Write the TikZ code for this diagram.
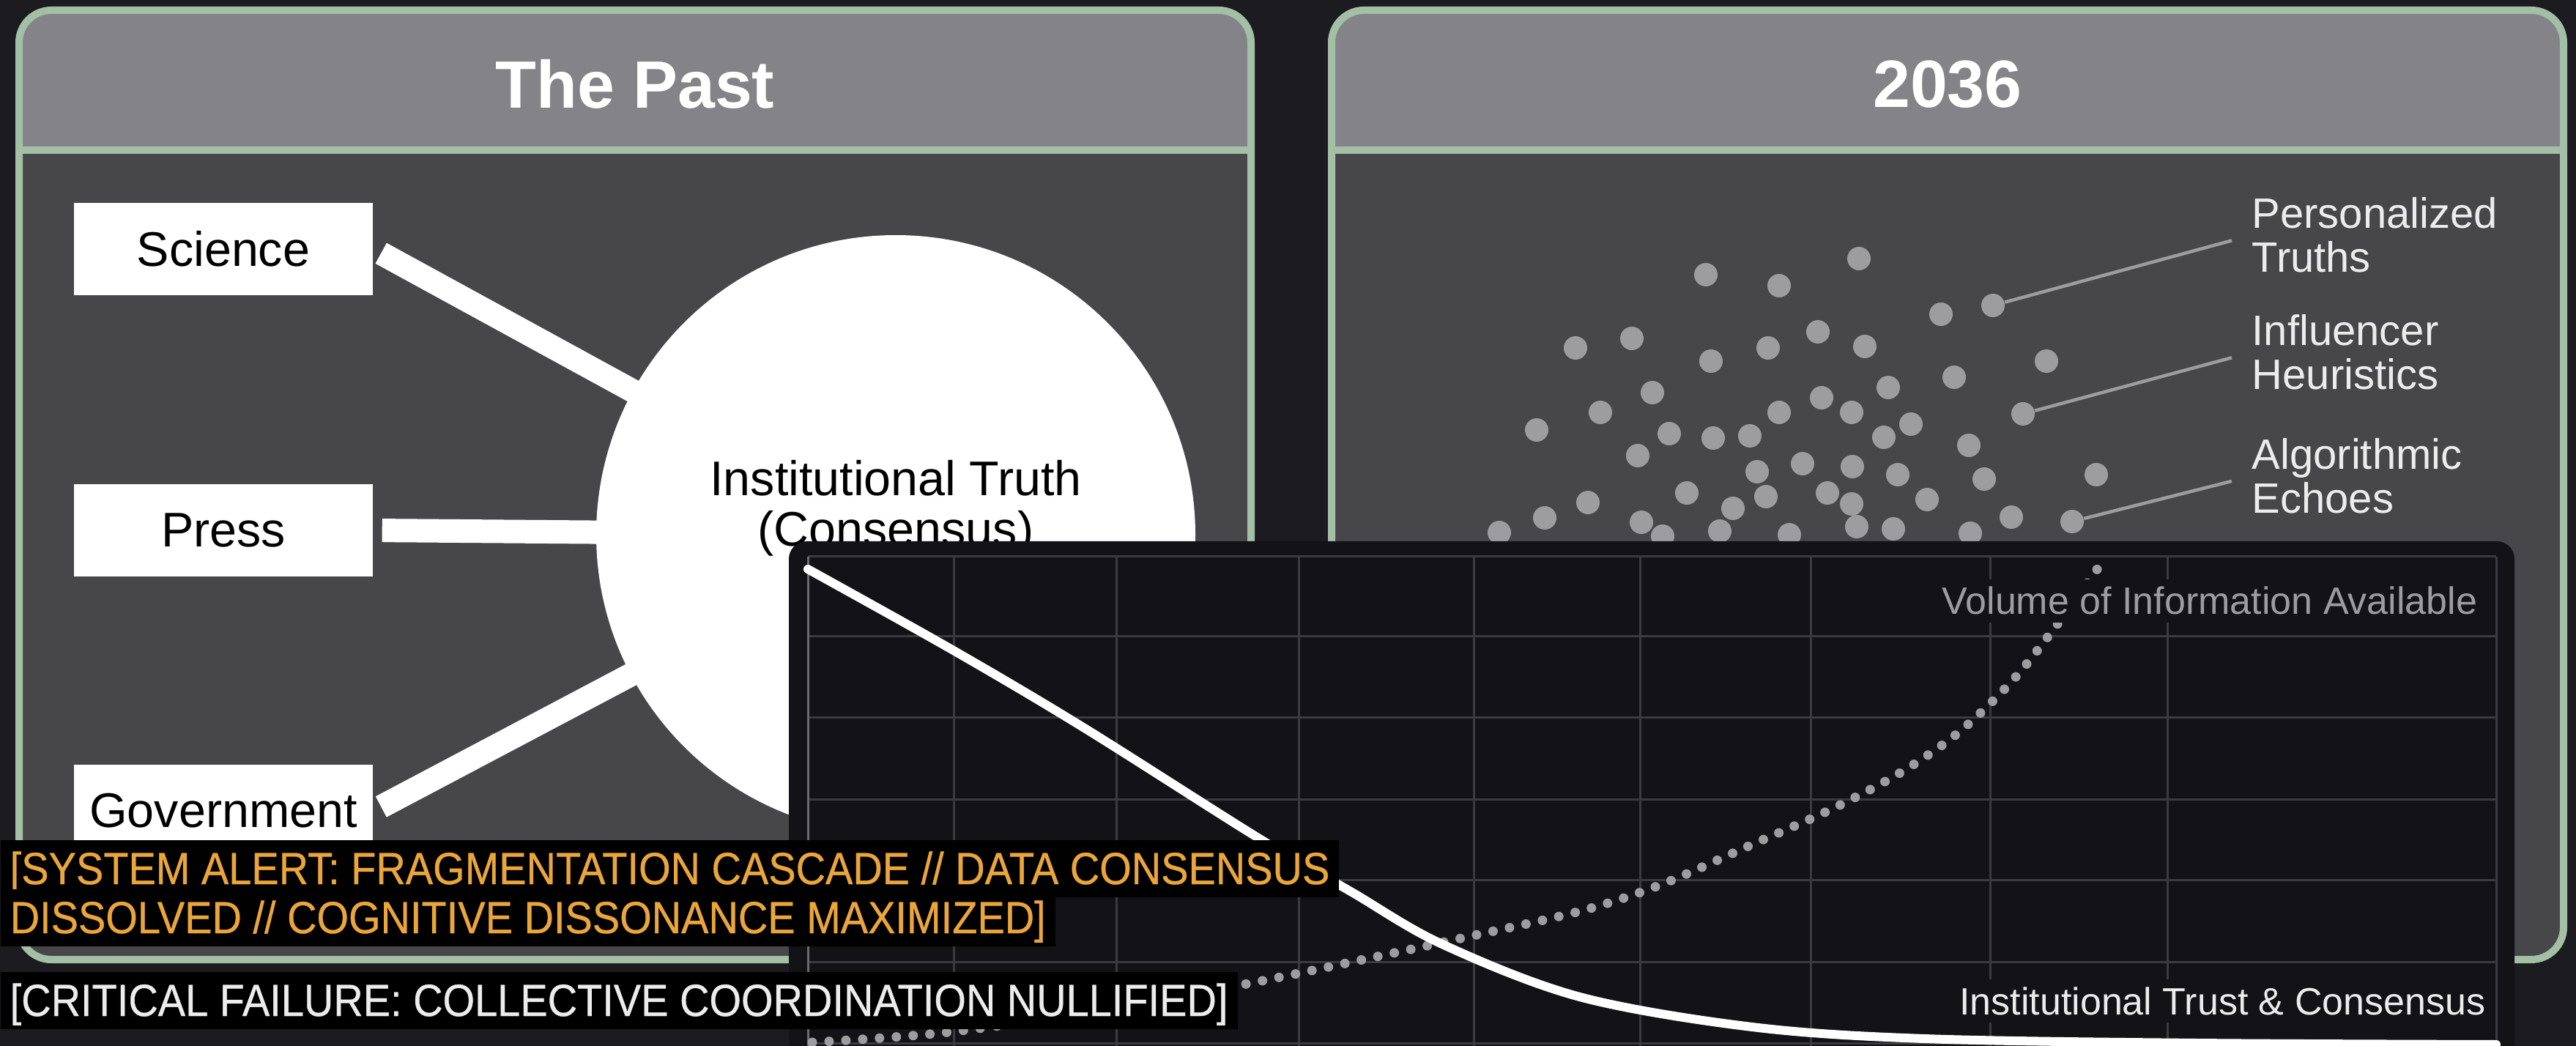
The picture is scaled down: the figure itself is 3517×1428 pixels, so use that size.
\documentclass[tikz,border=0pt]{standalone}
\usepackage{fontspec}
\setmainfont{Liberation Sans}
\newfontfamily\alertfont[FakeStretch=0.91,FakeBold=0.6]{Liberation Sans}
\usetikzlibrary{positioning}

\begin{document}
\begin{tikzpicture}[x=0.1mm,y=-0.1mm,
    paneltitle/.style={text=white,font=\fontsize{26pt}{28pt}\selectfont\bfseries},
    sourcebox/.style={fill=white,text=black,minimum width=40.8mm,minimum height=12.6mm,inner sep=0pt,
      font=\fontsize{18.9pt}{20pt}\selectfont},
    truthcircle/.style={circle,fill=white,minimum size=81.8mm,inner sep=0pt},
    truthtext/.style={text=black,align=center,inner sep=0pt,font=\fontsize{18.9pt}{19.6pt}\selectfont},
    link/.style={draw=white,line width=3.2mm,shorten <=1.2mm,shorten >=-1mm},
    leaderdot/.style={circle,fill=kDot,minimum size=3.2mm,inner sep=0pt},
    sidelabel/.style={text=kLabel,align=left,anchor=west,inner sep=0pt,font=\fontsize{16.5pt}{17pt}\selectfont},
    leader/.style={draw=kDot,line width=0.45mm,shorten >=2.8mm},
    chartlabel/.style={fill=kChart,anchor=base east,inner sep=1mm,font=\fontsize{14.8pt}{16pt}\selectfont},
    alertline/.style={fill=black,anchor=base west,inner xsep=1.3mm,inner ysep=0pt,text height=6mm,text depth=1.8mm,
      font=\alertfont\fontsize{17.5pt}{19pt}\selectfont}]
  % colors
  \definecolor{kPage}{HTML}{1B1B20}
  \definecolor{kChart}{HTML}{131317}
  \definecolor{kBody}{HTML}{47474A}
  \definecolor{kHead}{HTML}{848488}
  \definecolor{kSage}{HTML}{A3BFA5}
  \definecolor{kDot}{HTML}{9D9DA0}
  \definecolor{kLabel}{HTML}{ECECEC}
  \definecolor{kGrid}{HTML}{3A3A40}
  \definecolor{kAxis}{HTML}{6C6C70}
  \definecolor{kAlert}{HTML}{EAA53B}
  \useasboundingbox (0,0) rectangle (3517,1428);
  \fill[kPage] (0,0) rectangle (3517,1428);

  % panels
  \foreach \xa/\xb in {26/1708,1818/3500} {
    \begin{scope}
      \clip[rounded corners=4.4mm] (\xa,14) rectangle (\xb,1310);
      \fill[kBody] (\xa,14) rectangle (\xb,1310);
      \fill[kHead] (\xa,14) rectangle (\xb,205);
    \end{scope}
    \draw[color=kSage,line width=1mm] (\xa,205) -- (\xb,205);
    \draw[color=kSage,line width=1mm,rounded corners=4.4mm] (\xa,14) rectangle (\xb,1310);
  };
  \node[paneltitle] (pasttitle) at (867,115) {The Past};
  \node[paneltitle] (futuretitle) at (2659,115) {2036};

  % the past
  \node[sourcebox] (science) at (305,340) {Science};
  \node[sourcebox] (press) at (305,724) {Press};
  \node[sourcebox] (government) at (305,1107) {Government};
  \node[truthcircle] (truth) at (1223,730) {};
  \node[truthtext] (truthlabel) at (1223,694) {Institutional Truth\\(Consensus)};
  \foreach \src in {science,press,government}
    \draw[link] (\src.east) -- (truth);

  % 2036
  \foreach \x/\y in {2329/375,2429/390,2538/353,2650/429,
                     2151/475,2228/462,2336/493,2414/475,2482/453,2546/473,2794/493,2668/515,
                     2256/536,2578/529,2487/543,2185/563,2429/563,2528/563,
                     2098/587,2279/592,2339/598,2389/595,2609/579,2572/597,2688/608,
                     2236/622,2399/644,2461/633,2529/637,2591/648,2709/654,2862/648,
                     2168/686,2303/673,2411/678,2495/673,2631/682,
                     2109/707,2241/713,2366/694,2528/688,2746/706,
                     2047/727,2270/732,2348/725,2443/730,2535/719,2585/722,2690/728} {
    \fill[kDot] (\x,\y) circle (1.6mm);
  };
  \node[leaderdot] (persdot) at (2721,417) {};
  \node[leaderdot] (infldot) at (2762,565) {};
  \node[leaderdot] (algodot) at (2829,712) {};
  \node[sidelabel] (perslabel) at (3074,321) {Personalized\\Truths};
  \node[sidelabel] (infllabel) at (3074,481) {Influencer\\Heuristics};
  \node[sidelabel] (algolabel) at (3074,650) {Algorithmic\\Echoes};
  \draw[leader] (persdot) -- (perslabel.west);
  \draw[leader] (infldot) -- (infllabel.west);
  \draw[leader] (algodot) -- (algolabel.west);

  % chart
  \fill[kChart,rounded corners=2.4mm] (1077,739) rectangle (3433,1500);
  \foreach \y in {760,868,979,1091,1201,1313,1424}
    \draw[kGrid,line width=0.3mm] (1103,\y) -- (3408,\y);
  \foreach \x in {1302,1524,1773,2012,2239,2472,2717,2959,3408}
    \draw[kGrid,line width=0.3mm] (\x,760) -- (\x,1440);
  \draw[kAxis,line width=0.3mm] (1103,760) -- (1103,1440);
  % curves
  \draw[kDot,line width=1.3mm,line cap=round,dash pattern=on 0pt off 2.3mm]
    plot[smooth,tension=0.55] coordinates {(1109,1423) (1287,1410) (1500,1380) (1703,1343) (1875,1307) (1999,1280)
      (2157,1244) (2267,1208) (2392,1153) (2502,1104) (2596,1054) (2674,1000) (2745,932) (2800,864) (2862,779) (2875,758)};
  \draw[white,line width=1.2mm,line cap=round]
    plot[smooth,tension=0.55] coordinates {(1103,777) (1300,887) (1479,993) (1718,1144) (1844,1217) (1969,1289)
      (2157,1361) (2392,1402) (2627,1418) (3000,1424) (3408,1426)};
  \node[chartlabel,text=kDot] (volumelabel) at (3393,839) {Volume of Information Available};
  \node[chartlabel,text=kLabel] (trustlabel) at (3404,1385) {Institutional Trust \& Consensus};

  % alerts
  \node[alertline,text=kAlert] (alertone) at (0,1207) {[SYSTEM ALERT: FRAGMENTATION CASCADE // DATA CONSENSUS};
  \node[alertline,text=kAlert] (alerttwo) at (0,1274) {DISSOLVED // COGNITIVE DISSONANCE MAXIMIZED]};
  \node[alertline,text=kLabel] (failure) at (0,1387) {[CRITICAL FAILURE: COLLECTIVE COORDINATION NULLIFIED]};
\end{tikzpicture}
\end{document}
